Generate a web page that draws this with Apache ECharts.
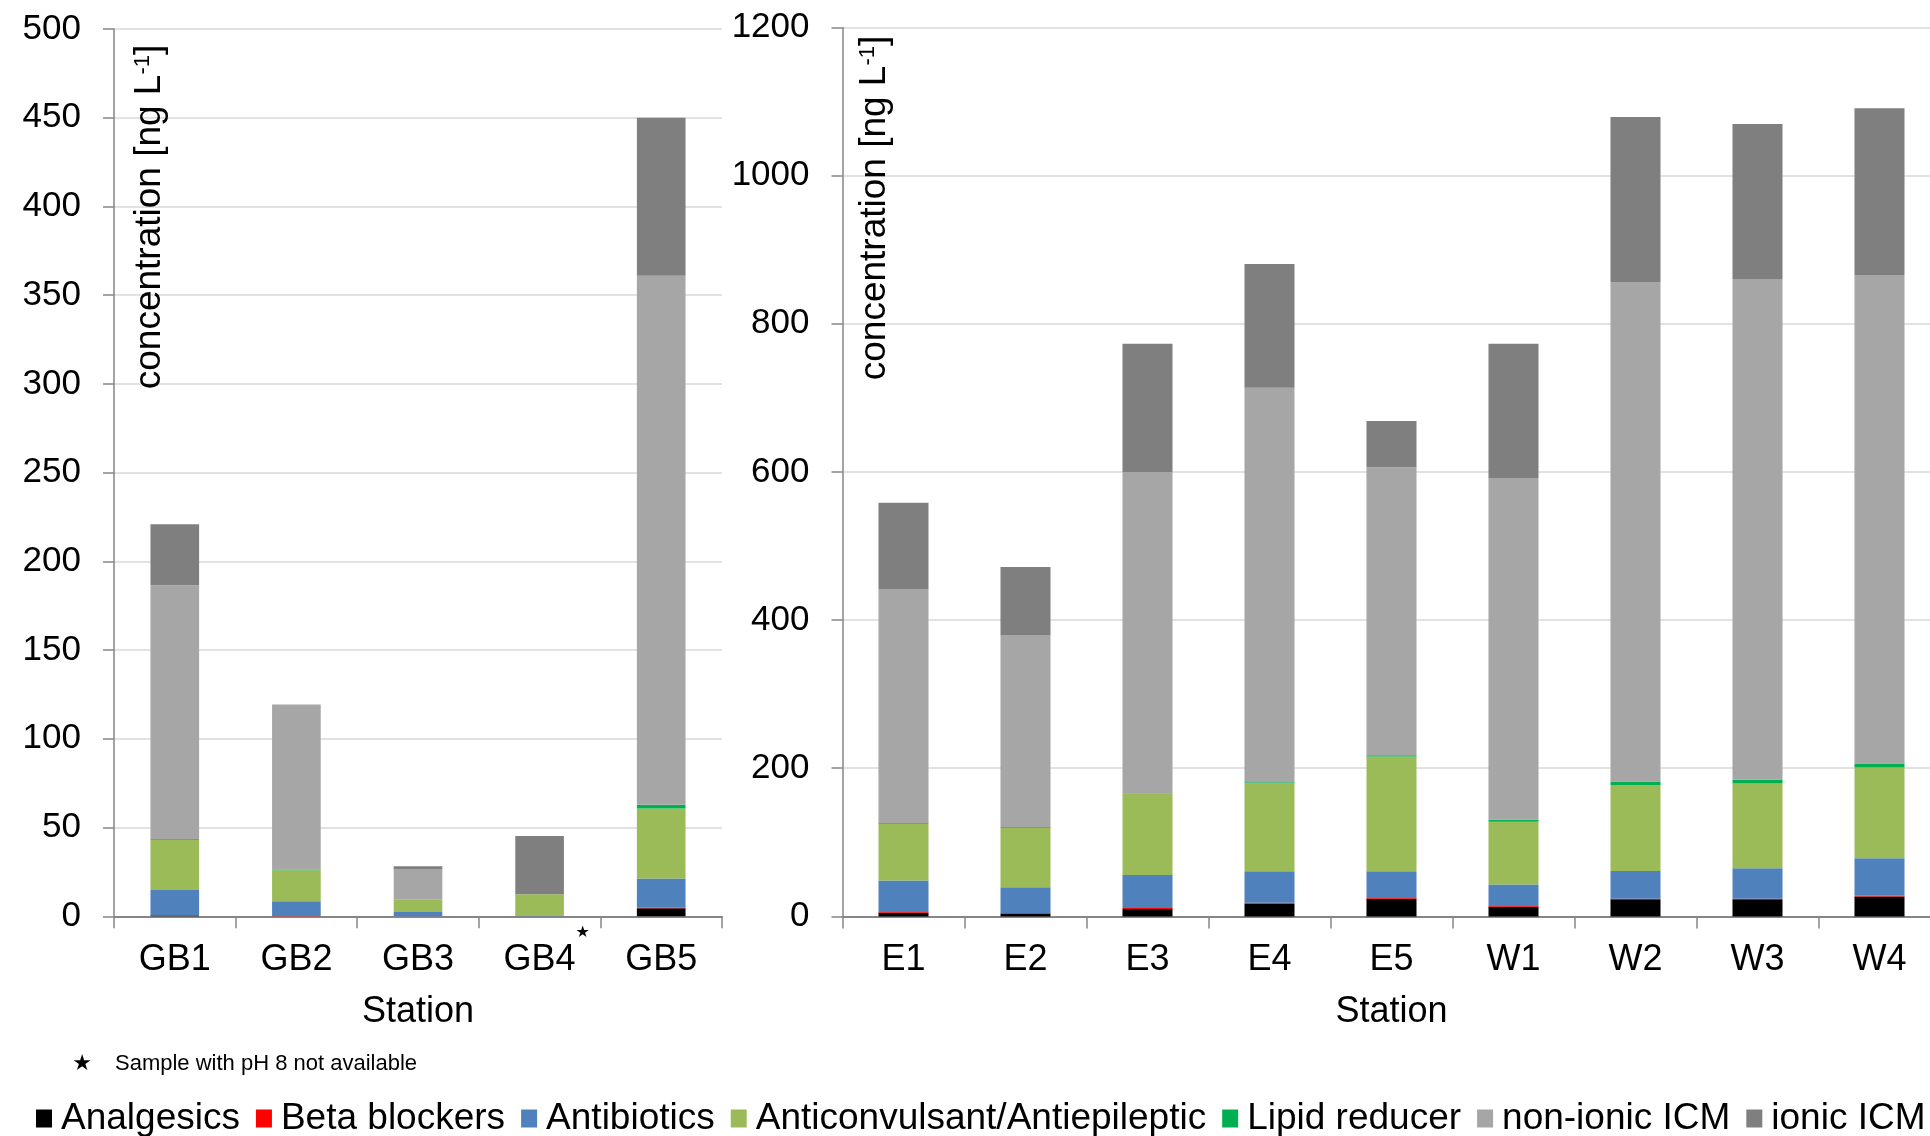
<!DOCTYPE html>
<html>
<head>
<meta charset="utf-8">
<script src="https://cdn.jsdelivr.net/npm/echarts@6/dist/echarts.min.js"></script>
<style>
html,body{margin:0;padding:0;background:#fff;overflow:hidden;}
#chart{width:1930px;height:1136px;}
</style>
</head>
<body>
<div id="chart"></div>
<script>
// ---- Data ----
var stationsGB = ['GB1', 'GB2', 'GB3', 'GB4', 'GB5'];
var stationsEW = ['E1', 'E2', 'E3', 'E4', 'E5', 'W1', 'W2', 'W3', 'W4'];
var seriesNames = ['Analgesics', 'Beta blockers', 'Antibiotics', 'Anticonvulsant/Antiepileptic', 'Lipid reducer', 'non-ionic ICM', 'ionic ICM'];

var analgesicsGB  = [0.3, 0, 0, 0, 4.5];
var betaGB        = [0.5, 0.2, 0, 0, 0.4];
var antibioticsGB = [14, 8.3, 2.4, 0.2, 16.4];
var anticonvGB    = [28.3, 17.5, 7, 12.2, 39.5];
var lipidGB       = [0.4, 0.4, 0.2, 0, 2.1];
var nonionicGB    = [143, 93, 17.1, 0, 298.1];
var ionicGB       = [34.4, 0, 1.5, 32.8, 89];

var analgesicsEW  = [5, 3.6, 9.9, 17.1, 23.9, 13, 23, 23, 27];
var betaEW        = [0.9, 0.9, 1.4, 1.4, 0.9, 1, 0.9, 0.9, 0.9];
var antibioticsEW = [42.7, 34.7, 44.6, 42.3, 36, 29.2, 37.4, 41, 50.5];
var anticonvEW    = [76.6, 80.6, 109.4, 118.9, 155, 84.7, 116.2, 114.4, 122.5];
var lipidEW       = [0.9, 0.9, 0.6, 1.3, 1.8, 2.7, 4.5, 5.2, 5.4];
var nonionicEW    = [315.3, 258.6, 433.6, 532.5, 388.7, 461.2, 673.6, 675.9, 658.9];
var ionicEW       = [116.9, 92.3, 173.4, 167.2, 62.3, 181.1, 223.6, 209.2, 225.6];

var colors = ['#000000', '#ff0000', '#4f81bd', '#9bbb59', '#00b050', '#a6a6a6', '#7f7f7f'];

var FONT = '"Liberation Sans", Arial, sans-serif';

var gbData = [analgesicsGB, betaGB, antibioticsGB, anticonvGB, lipidGB, nonionicGB, ionicGB];
var ewData = [analgesicsEW, betaEW, antibioticsEW, anticonvEW, lipidEW, nonionicEW, ionicEW];

var series = [];
seriesNames.forEach(function (n, i) {
  series.push({
    name: n, type: 'bar', stack: 'gb', xAxisIndex: 0, yAxisIndex: 0,
    barWidth: '40%', data: gbData[i], itemStyle: { color: colors[i] }
  });
});
seriesNames.forEach(function (n, i) {
  series.push({
    name: n, type: 'bar', stack: 'ew', xAxisIndex: 1, yAxisIndex: 1,
    barWidth: '41%', data: ewData[i], itemStyle: { color: colors[i] }
  });
});

function xAxisCfg(grid, data) {
  return {
    type: 'category', gridIndex: grid, data: data,
    axisLine: { lineStyle: { color: '#868686', width: 2 } },
    axisTick: { show: true, length: 12, lineStyle: { color: '#868686', width: 1.5 } },
    axisLabel: { fontSize: 36, color: '#000', margin: 26, fontFamily: FONT },
    name: 'Station', nameLocation: 'middle', nameGap: 78,
    nameTextStyle: { fontSize: 36, color: '#000', fontFamily: FONT }
  };
}
function yAxisCfg(grid, max, interval) {
  return {
    type: 'value', gridIndex: grid, min: 0, max: max, interval: interval,
    axisLine: { show: true, lineStyle: { color: '#868686', width: 1.5 } },
    axisTick: { show: true, length: 11, lineStyle: { color: '#868686', width: 1.5 } },
    splitLine: { show: true, lineStyle: { color: '#d9d9d9', width: 1.5 } },
    axisLabel: {
      fontSize: 35, color: '#000', margin: 33, fontFamily: FONT,
      formatter: function (v) { return String(v); }
    }
  };
}

var chart = echarts.init(document.getElementById('chart'));
chart.setOption({
  animation: false,
  textStyle: { fontFamily: FONT },
  grid: [
    { left: 114, top: 29, width: 608, height: 887.3, containLabel: false, outerBoundsMode: 'none' },
    { left: 842.5, top: 27.4, width: 1098, height: 889, containLabel: false, outerBoundsMode: 'none' }
  ],
  xAxis: [xAxisCfg(0, stationsGB), xAxisCfg(1, stationsEW)],
  yAxis: [yAxisCfg(0, 500, 50), yAxisCfg(1, 1200, 200)],
  legend: {
    data: seriesNames, left: 31, top: 1095, width: 2200, itemGap: 16,
    itemWidth: 16, itemHeight: 18, icon: 'rect',
    textStyle: { fontSize: 37, color: '#000', fontFamily: FONT, padding: [0, 0, 0, 4] },
    selectedMode: false
  },
  series: series
});

var gb4 = chart.convertToPixel({ gridIndex: 0 }, ['GB4', 0]);

function yName(x, y) {
  return {
    type: 'text', x: x, y: y, rotation: Math.PI / 2, silent: true,
    style: {
      text: '{a|concentration [ng L}{s|-1}{a|]}',
      align: 'center', verticalAlign: 'middle',
      rich: {
        a: { fontSize: 37, fontFamily: FONT, fill: '#000' },
        s: { fontSize: 22, fontFamily: FONT, fill: '#000', verticalAlign: 'top' }
      }
    }
  };
}

chart.setOption({
  graphic: [
    yName(150, 217),
    yName(875, 208),
    { type: 'text', x: gb4[0] + 43, y: 933, silent: true,
      style: { text: '★', fontSize: 16, fill: '#000', align: 'center', verticalAlign: 'middle', fontFamily: '"DejaVu Sans", sans-serif' } },
    { type: 'text', x: 82, y: 1064, silent: true,
      style: { text: '★', fontSize: 22, fill: '#000', align: 'center', verticalAlign: 'middle', fontFamily: '"DejaVu Sans", sans-serif' } },
    { type: 'text', x: 115, y: 1064, silent: true,
      style: { text: 'Sample with pH 8 not available', fontSize: 22, fill: '#000', align: 'left', verticalAlign: 'middle', fontFamily: FONT } }
  ]
});
</script>
</body>
</html>
